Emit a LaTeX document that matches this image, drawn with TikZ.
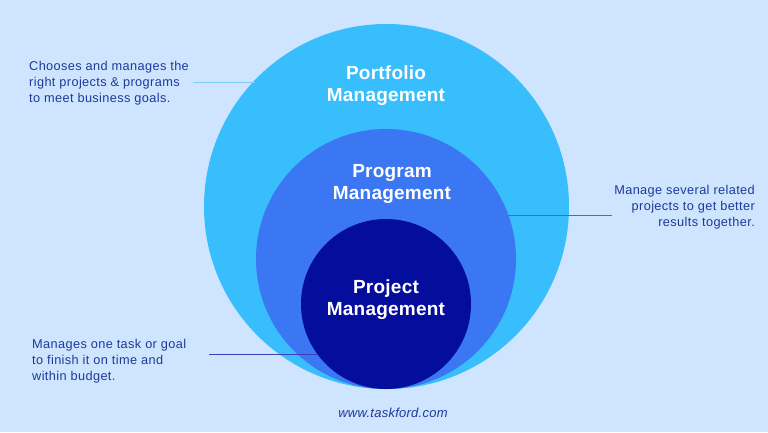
\documentclass[tikz,border=0pt]{standalone}
\usepackage{fontspec}
\usetikzlibrary{calc}
\setmainfont{Liberation Sans}
\newfontfamily\bodyfont[LetterSpace=3]{Liberation Sans}
\newfontfamily\titlefont[LetterSpace=1.2]{Liberation Sans}
\newfontfamily\urlfont[LetterSpace=2]{Liberation Sans}
\definecolor{bgc}{HTML}{CFE4FE}
\definecolor{outerc}{HTML}{38BDFD}
\definecolor{midc}{HTML}{3B76F3}
\definecolor{innerc}{HTML}{050E9C}
\definecolor{textc}{HTML}{1E3A9A}
\definecolor{lineA}{HTML}{7CCFFB}
\definecolor{lineB}{HTML}{3B6DE8}
\definecolor{lineC}{HTML}{3F3FBF}
\tikzset{
  x=1pt,y=-1pt,
  disc/.style={circle,inner sep=0pt,outer sep=0pt,minimum size=#1},
  title/.style={text=white,align=center,inner sep=0pt,font=\fontsize{19}{22}\titlefont\bfseries},
  note/.style={text=textc,inner sep=0pt,font=\fontsize{12.75}{16.2}\bodyfont},
  leader/.style={line width=0.9pt}
}
\begin{document}
\begin{tikzpicture}
\useasboundingbox (0,0) rectangle (768,432);
\fill[bgc] (0,0) rectangle (768,432);
\node[disc=365pt,fill=outerc] (portfolio) at (386.5,206.5) {};
\node[disc=260pt,fill=midc] (program) at (386,259) {};
\node[disc=170pt,fill=innerc] (project) at (386,304) {};
\node[title] (t1) at (386,85.5) {Portfolio\\Management};
\node[title] (t2) at (392,183.5) {Program\\Management};
\node[title] (t3) at (386,299.5) {Project\\Management};
\node[note,align=left,anchor=west] (n1) at (29,83) {Chooses and manages the\\right projects \& programs\\to meet business goals.};
\node[note,align=right,anchor=east] (n2) at (755,207) {Manage several related\\projects to get better\\results together.};
\node[note,align=left,anchor=west] (n3) at (32,361) {Manages one task or goal\\to finish it on time and\\within budget.};
\node[text=textc,inner sep=0pt,font=\fontsize{13}{14}\urlfont\itshape] (url) at (393,413) {www.taskford.com};
\coordinate (a1) at (193,82);
\coordinate (a2) at (612,215);
\coordinate (a3) at (209,354);
\draw[leader,lineA] (a1) -- ($(portfolio.center)+(-131.5,-124.5)$);
\draw[leader,lineB] (a2) -- ($(program.center)+(122,-44)$);
\draw[leader,lineC] (a3) -- ($(project.center)+(-68,50)$);
\end{tikzpicture}
\end{document}
